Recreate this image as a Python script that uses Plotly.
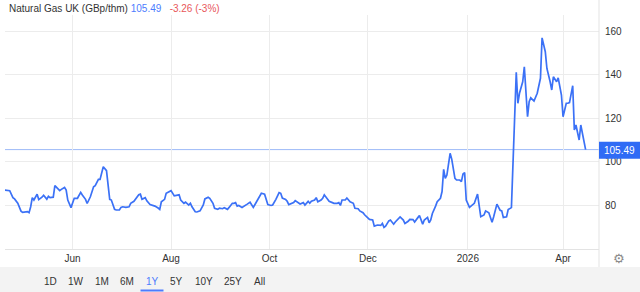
import plotly.graph_objects as go

# ---------------- data ----------------
dates = [
    "2025-04-20", "2025-04-23", "2025-04-25", "2025-04-26", "2025-04-28", "2025-04-30",
    "2025-05-01", "2025-05-04", "2025-05-05", "2025-05-06", "2025-05-07", "2025-05-08",
    "2025-05-10", "2025-05-11", "2025-05-13", "2025-05-14", "2025-05-16", "2025-05-17",
    "2025-05-18", "2025-05-20", "2025-05-21", "2025-05-22", "2025-05-24", "2025-05-25",
    "2025-05-27", "2025-05-28", "2025-05-29", "2025-05-31",
    "2025-06-01", "2025-06-02", "2025-06-04", "2025-06-06", "2025-06-07", "2025-06-09",
    "2025-06-10", "2025-06-12", "2025-06-14", "2025-06-15", "2025-06-17", "2025-06-18",
    "2025-06-20", "2025-06-21", "2025-06-22", "2025-06-24", "2025-06-25", "2025-06-27",
    "2025-06-28", "2025-06-30",
    "2025-07-01", "2025-07-02", "2025-07-04", "2025-07-06", "2025-07-07", "2025-07-09",
    "2025-07-10", "2025-07-12", "2025-07-13", "2025-07-14", "2025-07-16", "2025-07-17",
    "2025-07-19", "2025-07-21", "2025-07-22", "2025-07-24", "2025-07-25", "2025-07-26",
    "2025-07-28", "2025-07-29", "2025-07-31",
    "2025-08-01", "2025-08-03", "2025-08-05", "2025-08-06", "2025-08-07", "2025-08-09",
    "2025-08-10", "2025-08-12", "2025-08-13", "2025-08-14", "2025-08-16", "2025-08-17",
    "2025-08-19", "2025-08-21", "2025-08-22", "2025-08-24", "2025-08-25", "2025-08-27",
    "2025-08-28", "2025-08-30", "2025-08-31",
    "2025-09-02", "2025-09-03", "2025-09-05", "2025-09-06", "2025-09-08", "2025-09-09",
    "2025-09-10", "2025-09-11", "2025-09-12", "2025-09-14", "2025-09-15", "2025-09-17",
    "2025-09-19", "2025-09-20", "2025-09-21", "2025-09-23", "2025-09-25", "2025-09-26",
    "2025-09-28", "2025-09-29", "2025-09-30",
    "2025-10-02", "2025-10-03", "2025-10-05", "2025-10-07", "2025-10-08", "2025-10-09",
    "2025-10-11", "2025-10-12", "2025-10-13", "2025-10-15", "2025-10-16", "2025-10-17",
    "2025-10-19", "2025-10-20", "2025-10-22", "2025-10-23", "2025-10-25", "2025-10-26",
    "2025-10-27", "2025-10-29", "2025-10-30", "2025-10-31",
    "2025-11-02", "2025-11-03", "2025-11-04", "2025-11-06", "2025-11-07", "2025-11-09",
    "2025-11-10", "2025-11-12", "2025-11-13", "2025-11-14", "2025-11-15", "2025-11-17",
    "2025-11-18", "2025-11-20", "2025-11-22", "2025-11-23", "2025-11-25", "2025-11-26",
    "2025-11-28", "2025-11-29",
    "2025-12-01", "2025-12-02", "2025-12-04", "2025-12-05", "2025-12-07", "2025-12-09",
    "2025-12-10", "2025-12-11", "2025-12-12", "2025-12-14", "2025-12-15", "2025-12-17",
    "2025-12-18", "2025-12-20", "2025-12-21", "2025-12-23", "2025-12-24", "2025-12-26",
    "2025-12-27", "2025-12-29", "2025-12-30",
    "2026-01-01", "2026-01-02", "2026-01-04", "2026-01-05", "2026-01-07", "2026-01-08",
    "2026-01-09", "2026-01-10", "2026-01-12", "2026-01-13", "2026-01-15", "2026-01-16",
    "2026-01-17", "2026-01-18", "2026-01-19", "2026-01-21", "2026-01-22", "2026-01-24",
    "2026-01-25", "2026-01-27", "2026-01-28", "2026-01-29", "2026-01-30", "2026-01-31",
    "2026-02-02", "2026-02-03", "2026-02-05", "2026-02-07", "2026-02-08", "2026-02-09",
    "2026-02-11", "2026-02-12", "2026-02-14", "2026-02-15", "2026-02-16", "2026-02-17",
    "2026-02-19", "2026-02-21", "2026-02-22", "2026-02-23", "2026-02-25", "2026-02-26",
    "2026-02-27", "2026-02-28",
    "2026-03-03", "2026-03-04", "2026-03-05", "2026-03-07", "2026-03-08", "2026-03-10",
    "2026-03-11", "2026-03-12", "2026-03-14", "2026-03-15", "2026-03-16", "2026-03-18",
    "2026-03-19", "2026-03-21", "2026-03-22", "2026-03-24", "2026-03-25", "2026-03-26",
    "2026-03-28", "2026-03-29", "2026-03-31",
    "2026-04-01", "2026-04-03", "2026-04-04", "2026-04-05", "2026-04-07", "2026-04-08",
    "2026-04-09", "2026-04-11", "2026-04-12", "2026-04-14", "2026-04-15",
]

prices = [
    86.9, 86.6, 83.4, 82.8, 80.8, 77.2,
    76.6, 77.0, 76.5, 79.2, 83.4, 82.3,
    85.0, 82.5, 83.6, 84.5, 82.7, 84.0,
    83.4, 83.6, 88.9, 88.0, 86.6, 87.2,
    88.1, 86.9, 82.3, 78.8,
    80.7, 83.1, 83.1, 85.8, 84.6, 82.6,
    80.7, 83.8, 88.4, 88.9, 91.8, 91.8,
    97.6, 96.7, 95.8, 82.6, 82.3, 78.0,
    77.7, 77.7,
    78.9, 79.2, 78.9, 79.2, 80.8, 81.7,
    82.6, 84.7, 85.0, 82.6, 83.4, 81.9,
    80.2, 79.8, 79.5, 78.6, 78.0, 81.5,
    82.6, 85.4, 86.4,
    86.6, 84.2, 84.5, 84.7, 82.3, 80.8,
    81.3, 80.0, 80.8, 79.2, 76.9, 76.8,
    77.3, 80.0, 82.8, 83.6, 83.1, 80.8,
    78.5, 78.0, 78.6,
    78.3, 78.8, 78.0, 78.9, 80.8, 80.8,
    81.1, 79.5, 79.8, 78.9, 79.5, 80.3,
    81.3, 79.8, 78.9, 81.5, 84.1, 85.4,
    85.0, 82.3, 80.2,
    79.8, 80.0, 82.6, 85.7, 85.4, 83.2,
    82.6, 81.7, 80.2, 80.8, 81.1, 82.0,
    80.8, 80.5, 81.1, 80.0, 81.7, 80.8,
    81.7, 82.3, 83.4, 81.5,
    82.3, 83.1, 84.7, 82.6, 81.7, 81.1,
    80.8, 80.8, 81.1, 79.8, 82.3, 82.3,
    83.2, 81.5, 80.8, 78.5, 78.3, 77.3,
    76.5, 75.5,
    74.3, 73.4, 73.1, 70.3, 70.8, 70.6,
    71.5, 69.7, 70.3, 72.7, 73.1, 71.2,
    72.2, 73.6, 74.5, 73.1, 71.5, 72.5,
    73.4, 73.3, 72.2,
    74.2, 75.2, 71.2, 73.1, 74.3, 71.8,
    73.1, 76.1, 79.5, 81.5, 83.1, 86.2,
    96.4, 92.3, 93.8, 103.8, 101.1, 92.3,
    91.5, 91.5, 90.8, 94.3, 94.9, 82.3,
    78.9, 79.5, 80.8, 85.0, 78.9, 74.6,
    75.4, 77.3, 76.4, 74.3, 72.1, 74.6,
    80.4, 77.6, 77.3, 74.3, 74.6, 77.9,
    78.3, 78.8,
    141.0, 126.8, 131.4, 136.7, 143.6, 120.6,
    127.5, 129.3, 127.8, 129.8, 131.4, 138.3,
    156.9, 150.5, 142.8, 136.7, 132.9, 139.0,
    136.7, 138.5, 130.6,
    120.6, 126.8, 126.8, 127.1, 134.9, 114.5,
    116.8, 109.9, 116.8, 109.1, 105.49,
]

title_text = "Natural Gas UK (GBp/thm)"
last_value = "105.49"
change_text = "-3.26 (-3%)"

x_tick_vals = ["2025-06-01", "2025-08-01", "2025-10-01", "2025-12-01", "2026-02-01", "2026-04-01"]
x_tick_text = ["Jun", "Aug", "Oct", "Dec", "2026", "Apr"]
y_tick_vals = [80, 100, 120, 140, 160]
range_buttons = ["1D", "1W", "1M", "6M", "1Y", "5Y", "10Y", "25Y", "All"]
active_button = "1Y"

# ---------------- layout helpers ----------------
W, H = 640, 292
ML, MR, MT, MB = 5, 41, 15, 43
PW, PH = W - ML - MR, H - MT - MB


def px_x(px):
    return (px - ML) / PW


def px_y(py):
    return (H - MB - py) / PH


FONT = "Liberation Sans, Arial, Helvetica, sans-serif"
TXT = "#333333"
BLUE_LINE = "#3b71f6"
BLUE_TXT = "#4d7cfe"
RED_TXT = "#e8575a"
GRID = "#ececec"

fig = go.Figure()
fig.add_trace(go.Scatter(
    x=dates, y=prices, mode="lines",
    line=dict(color=BLUE_LINE, width=1.7),
    hoverinfo="skip", showlegend=False,
))

shapes = []
# last value reference line
shapes.append(dict(type="line", xref="paper", yref="y", x0=0, x1=1,
                   y0=prices[-1], y1=prices[-1],
                   line=dict(color="#9dbaf8", width=1), layer="below"))
# right separator line
shapes.append(dict(type="line", xref="paper", yref="paper", x0=1, x1=1,
                   y0=px_y(267), y1=px_y(0), line=dict(color="#e3e3e3", width=1)))
# bottom range-selector bar
shapes.append(dict(type="rect", xref="paper", yref="paper",
                   x0=px_x(0), x1=px_x(640), y0=px_y(292), y1=px_y(267),
                   fillcolor="#f3f3f3", line=dict(width=0), layer="below"))
# last value badge
shapes.append(dict(type="rect", xref="paper", yref="y",
                   x0=1, x1=px_x(640), y0=prices[-1] - 4.2, y1=prices[-1] + 3.6,
                   fillcolor="#2f6bf5", line=dict(width=0), layer="above"))

annotations = []
annotations.append(dict(
    xref="paper", yref="paper", x=px_x(7), y=px_y(8), xanchor="left", yanchor="middle",
    text=(f"{title_text} <span style='color:{BLUE_TXT}'>{last_value}</span>"
          f"\u00a0\u00a0 <span style='color:{RED_TXT}'>{change_text}</span>"),
    showarrow=False, font=dict(family=FONT, size=10, color=TXT)))
annotations.append(dict(
    xref="paper", yref="y", x=px_x(619), y=prices[-1] - 0.3, xanchor="center", yanchor="middle",
    text=last_value, showarrow=False, font=dict(family=FONT, size=10, color="white")))
# gear icon
annotations.append(dict(
    xref="paper", yref="paper", x=px_x(619), y=px_y(258), xanchor="center", yanchor="middle",
    text="\u2699", showarrow=False, font=dict(family="DejaVu Sans", size=13, color="#8a8a8a")))

button_centers = [50, 76, 102, 127, 152, 176, 204, 233, 259]
for lbl, cx in zip(range_buttons, button_centers):
    annotations.append(dict(
        xref="paper", yref="paper", x=px_x(cx), y=px_y(281), xanchor="center", yanchor="middle",
        text=lbl, showarrow=False,
        font=dict(family=FONT, size=10, color=BLUE_TXT if lbl == active_button else TXT)))
    if lbl == active_button:
        shapes.append(dict(type="line", xref="paper", yref="paper",
                           x0=px_x(cx - 11.5), x1=px_x(cx + 11.5), y0=px_y(290.5), y1=px_y(290.5),
                           line=dict(color=BLUE_TXT, width=2)))

fig.update_layout(
    width=W, height=H,
    margin=dict(l=ML, r=MR, t=MT, b=MB),
    paper_bgcolor="white", plot_bgcolor="white",
    font=dict(family=FONT, size=10, color=TXT),
    shapes=shapes, annotations=annotations,
    xaxis=dict(
        type="date", range=["2025-04-20 02:00", "2026-04-23 07:00"],
        tickmode="array", tickvals=x_tick_vals, ticktext=x_tick_text,
        showgrid=True, gridcolor=GRID, gridwidth=1,
        showline=True, linecolor="#e3e3e3", linewidth=1,
        ticks="", tickfont=dict(size=10, color=TXT), zeroline=False,
        fixedrange=True,
    ),
    yaxis=dict(
        side="right", range=[59.77, 167.4],
        tickmode="array", tickvals=y_tick_vals,
        showgrid=True, gridcolor=GRID, gridwidth=1,
        ticks="outside", ticklen=3, tickcolor="rgba(0,0,0,0)",
        tickfont=dict(size=10, color=TXT), zeroline=False, showline=False,
        fixedrange=True,
    ),
    showlegend=False,
)

fig.write_html("out.html", config={"displayModeBar": False})
